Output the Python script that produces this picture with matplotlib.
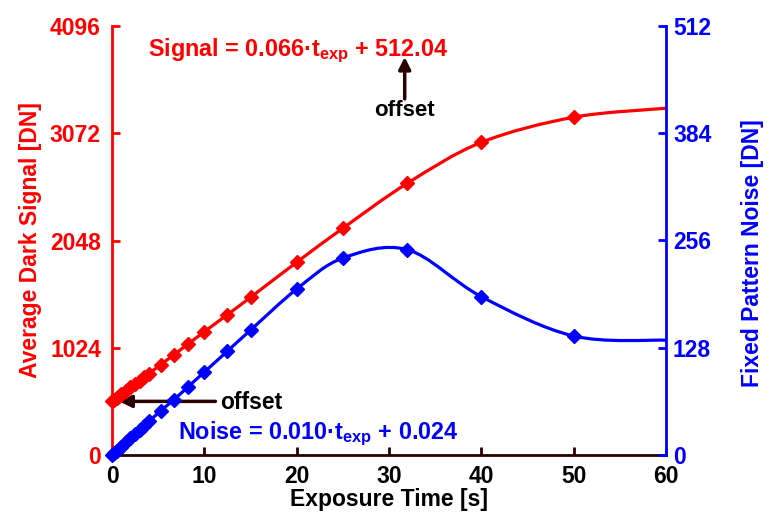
import numpy as np
import matplotlib
matplotlib.use("Agg")
import matplotlib.pyplot as plt
from matplotlib.path import Path
from matplotlib.patches import PathPatch

# ── data ──────────────────────────────────────────────────────────────────────
exposure_s = [0, 0.25, 0.5, 0.75, 1, 1.5, 2, 2.5, 3, 3.5, 4, 5.3, 6.7, 8.2,
              10, 12.5, 15, 20, 25, 32, 40, 50, 60]
dark_signal = [512, 529, 545, 562, 578, 611, 645, 678, 711, 745, 778, 864, 957,
               1057, 1177, 1340, 1505, 1840, 2165, 2595, 2985, 3225, 3311]
fpn = [0, 2.5, 5, 7.5, 10, 15, 20, 25, 30, 35, 40, 53, 66, 81,
       99, 124, 149, 198, 235, 245, 189, 142, 137]
n_marked = len(exposure_s) - 1   # last point has no marker

x_ticks = [0, 10, 20, 30, 40, 50, 60]
signal_ticks = [0, 1024, 2048, 3072, 4096]
fpn_ticks = [0, 128, 256, 384, 512]

RED = "#ff0000"
BLUE = "#0000ff"
DARK = "#2a0000"

plt.rcParams["font.family"] = "Liberation Sans"
plt.rcParams["font.weight"] = "bold"
plt.rcParams["mathtext.fontset"] = "custom"
plt.rcParams["mathtext.bf"] = "Liberation Sans:bold"
plt.rcParams["mathtext.rm"] = "Liberation Sans:bold"
plt.rcParams["mathtext.default"] = "bf"


def smooth_path(x, y):
    """Excel-style smoothed line: Catmull-Rom segments as cubic Beziers."""
    pts = np.column_stack([x, y]).astype(float)
    verts = [pts[0]]
    codes = [Path.MOVETO]
    n = len(pts)
    for i in range(n - 1):
        p0 = pts[max(i - 1, 0)]
        p1 = pts[i]
        p2 = pts[i + 1]
        p3 = pts[min(i + 2, n - 1)]
        verts += [p1 + (p2 - p0) / 6, p2 - (p3 - p1) / 6, p2]
        codes += [Path.CURVE4] * 3
    return Path(verts, codes)


fig = plt.figure(figsize=(7.73, 5.2), dpi=100)
ax = fig.add_axes([0.1449, 0.125, 0.7167, 0.825])
ax2 = ax.twinx()

# signal (left axis)
ax.add_patch(PathPatch(smooth_path(exposure_s, dark_signal), fill=False,
                       edgecolor=RED, lw=2.3, zorder=3))
ax.plot(exposure_s[:n_marked], dark_signal[:n_marked], ls="none", marker="D",
        ms=7, color=RED, clip_on=False, zorder=4)

# fixed pattern noise (right axis)
ax2.add_patch(PathPatch(smooth_path(exposure_s, fpn), fill=False,
                        edgecolor=BLUE, lw=2.3, zorder=3))
ax2.plot(exposure_s[:n_marked], fpn[:n_marked], ls="none", marker="D",
         ms=7, color=BLUE, clip_on=False, zorder=4)

ax.set_xlim(0, 60)
ax.set_ylim(0, 4096)
ax2.set_ylim(0, 512)
ax.set_xticks(x_ticks)
ax.set_yticks(signal_ticks)
ax2.set_yticks(fpn_ticks)

for a in (ax, ax2):
    a.spines["top"].set_visible(False)
ax.spines["right"].set_visible(False)
ax2.spines["left"].set_visible(False)
ax2.spines["bottom"].set_visible(False)
ax.spines["left"].set_color(RED)
ax.spines["bottom"].set_color(DARK)
ax2.spines["right"].set_color(BLUE)
for s in ("left", "bottom"):
    ax.spines[s].set_linewidth(2)
ax2.spines["right"].set_linewidth(2)

ax.tick_params(axis="x", direction="in", length=6, width=2, color=DARK,
               labelsize=16.5, labelcolor="black", pad=7)
ax.tick_params(axis="y", direction="in", length=6, width=2, color=RED,
               labelsize=16.5, labelcolor=RED, pad=8)
ax2.tick_params(axis="y", direction="in", length=6, width=2, color=BLUE,
                labelsize=16.5, labelcolor=BLUE, pad=5)

ax.set_xlabel("Exposure Time [s]", fontsize=16.5, fontweight="bold", labelpad=0)
ax.set_ylabel("Average Dark Signal [DN]", fontsize=16.5, fontweight="bold",
              color=RED, labelpad=6)
ax2.set_ylabel("Fixed Pattern Noise [DN]", fontsize=16.5, fontweight="bold",
               color=BLUE, va="center")
ax2.yaxis.set_label_coords(1.157, 0.47)

# annotations
ax.text(20.1, 3860, r"Signal = 0.066·t$_{exp}$ + 512.04", color=RED,
        fontsize=16.8, ha="center", va="center")
ax.annotate("", xy=(31.7, 3800), xytext=(31.7, 3400),
            arrowprops=dict(arrowstyle="-|>", color=DARK, lw=2.5,
                            mutation_scale=18, shrinkA=0, shrinkB=0))
ax.text(31.7, 3290, "offset", color="black", fontsize=16, ha="center", va="center")

ax.annotate("", xy=(0.8, 512), xytext=(11.2, 512),
            arrowprops=dict(arrowstyle="-|>", color=DARK, lw=2.5,
                            mutation_scale=18, shrinkA=0, shrinkB=0))
ax.text(11.7, 505, "offset", color="black", fontsize=16.5, ha="left", va="center")
ax.text(7.2, 205, r"Noise = 0.010·t$_{exp}$ + 0.024", color=BLUE,
        fontsize=16.8, ha="left", va="center")

fig.savefig("out.png", dpi=100)
